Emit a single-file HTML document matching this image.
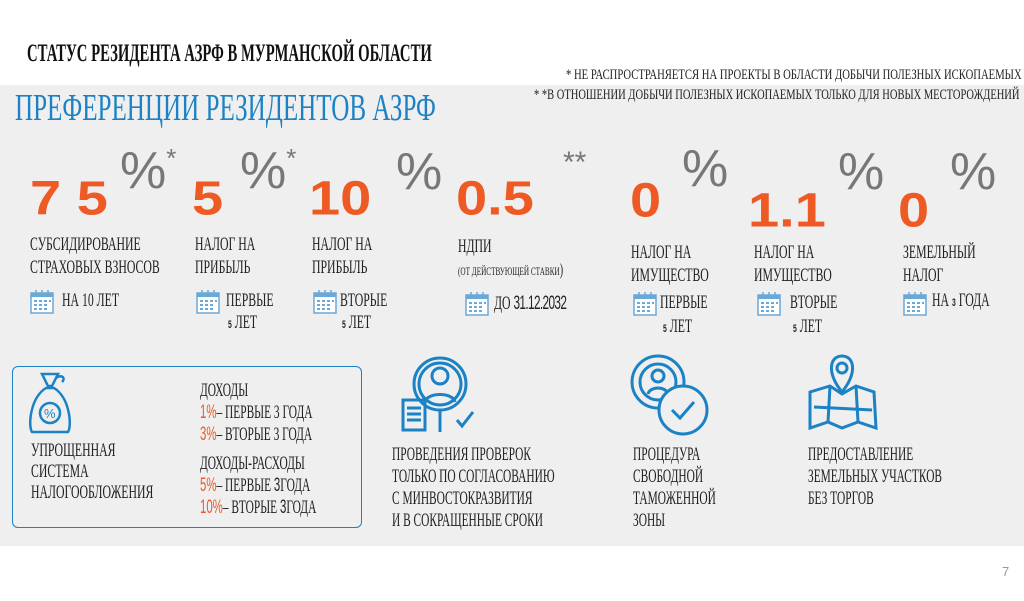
<!DOCTYPE html>
<html><head><meta charset="utf-8"><style>
body{margin:0;width:1024px;height:601px;background:#fff;position:relative;overflow:hidden;font-family:"Liberation Serif","DejaVu Serif",serif}
.a{position:absolute;white-space:nowrap}
.c{display:inline-block;transform-origin:0 0;white-space:nowrap;color:#222}
.n{font-family:"Liberation Sans",sans-serif;font-weight:bold;color:#ee5a24;font-size:56px;line-height:1;transform:scaleY(.86);transform-origin:0 0}
.p{font-family:"Liberation Sans",sans-serif;color:#777;font-size:52px;line-height:1}
.l{font-size:19px;line-height:23px;transform:scaleX(.62)}
.o{font-family:"Liberation Sans",sans-serif;color:#ee5a24}
</style></head><body>
<div class="a" style="left:0;top:85px;width:1024px;height:461px;background:#efefef"></div>
<div class="a" style="left:27px;top:40px"><span class="c" style="font-size:25px;transform:scaleX(.59);font-weight:bold;color:#111">СТАТУС РЕЗИДЕНТА АЗРФ В МУРМАНСКОЙ ОБЛАСТИ</span></div>
<div class="a" style="left:566px;top:66px"><span class="c" style="font-size:15px;transform:scaleX(.71)">* НЕ РАСПРОСТРАНЯЕТСЯ НА ПРОЕКТЫ В ОБЛАСТИ ДОБЫЧИ ПОЛЕЗНЫХ ИСКОПАЕМЫХ</span></div>
<div class="a" style="left:534px;top:86px"><span class="c" style="font-size:15px;transform:scaleX(.70)">* *В ОТНОШЕНИИ  ДОБЫЧИ ПОЛЕЗНЫХ ИСКОПАЕМЫХ ТОЛЬКО ДЛЯ НОВЫХ МЕСТОРОЖДЕНИЙ</span></div>
<div class="a" style="left:15px;top:86px"><span class="c" style="font-size:38px;transform:scaleX(.66);color:#1b82c5">ПРЕФЕРЕНЦИИ РЕЗИДЕНТОВ  АЗРФ</span></div>

<div class="a n" style="left:30px;top:174px">7 5</div>
<div class="a p" style="left:120px;top:145px">%<span style="font-size:26px;vertical-align:top">*</span></div>
<div class="a n" style="left:192px;top:174px">5</div>
<div class="a p" style="left:240px;top:145px">%<span style="font-size:26px;vertical-align:top">*</span></div>
<div class="a n" style="left:309px;top:174px">10</div>
<div class="a p" style="left:396px;top:146px">%</div>
<div class="a n" style="left:456px;top:174px">0.5</div>
<div class="a p" style="left:563px;top:148px;font-size:30px">**</div>
<div class="a n" style="left:630px;top:176px">0</div>
<div class="a p" style="left:682px;top:143px">%</div>
<div class="a n" style="left:748px;top:186px">1.1</div>
<div class="a p" style="left:838px;top:146px">%</div>
<div class="a n" style="left:898px;top:186px">0</div>
<div class="a p" style="left:950px;top:146px">%</div>

<div class="a" style="left:30px;top:233px"><span class="c l">СУБСИДИРОВАНИЕ<br>СТРАХОВЫХ ВЗНОСОВ</span></div>
<div class="a" style="left:195px;top:233px"><span class="c l">НАЛОГ НА<br>ПРИБЫЛЬ</span></div>
<div class="a" style="left:312px;top:233px"><span class="c l">НАЛОГ НА<br>ПРИБЫЛЬ</span></div>
<div class="a" style="left:458px;top:235px"><span class="c l">НДПИ</span></div>
<div class="a" style="left:458px;top:260px"><span class="c" style="font-size:12px;transform:scaleX(.6)">(ОТ ДЕЙСТВУЮЩЕЙ СТАВКИ<span style="font-size:17px">)</span></span></div>
<div class="a" style="left:631px;top:241px"><span class="c l">НАЛОГ НА<br>ИМУЩЕСТВО</span></div>
<div class="a" style="left:754px;top:241px"><span class="c l">НАЛОГ НА<br>ИМУЩЕСТВО</span></div>
<div class="a" style="left:903px;top:241px"><span class="c l">ЗЕМЕЛЬНЫЙ<br>НАЛОГ</span></div>

<svg width="0" height="0" style="position:absolute"><defs><g id="cal"><rect x="1" y="3" width="22" height="20" fill="#fff" stroke="#6aa8d8" stroke-width="1.5"/><rect x="1" y="3" width="22" height="4" fill="#6aa8d8"/><g fill="#6aa8d8"><rect x="4" y="10" width="3" height="2"/><rect x="9" y="10" width="3" height="2"/><rect x="14" y="10" width="3" height="2"/><rect x="19" y="10" width="2" height="2"/><rect x="4" y="14" width="3" height="2"/><rect x="9" y="14" width="3" height="2"/><rect x="14" y="14" width="3" height="2"/><rect x="4" y="18" width="3" height="2"/><rect x="9" y="18" width="3" height="2"/><rect x="14" y="18" width="3" height="2"/></g><g stroke="#6aa8d8" stroke-width="1.5"><line x1="6" y1="0" x2="6" y2="5"/><line x1="12" y1="0" x2="12" y2="5"/><line x1="18" y1="0" x2="18" y2="5"/></g></g></defs></svg>
<svg class="a" style="left:30px;top:290px" width="24" height="24"><use href="#cal"/></svg>
<svg class="a" style="left:196px;top:290px" width="24" height="24"><use href="#cal"/></svg>
<svg class="a" style="left:313px;top:290px" width="24" height="24"><use href="#cal"/></svg>
<svg class="a" style="left:465px;top:292px" width="24" height="24"><use href="#cal"/></svg>
<svg class="a" style="left:633px;top:292px" width="24" height="24"><use href="#cal"/></svg>
<svg class="a" style="left:757px;top:292px" width="24" height="24"><use href="#cal"/></svg>
<svg class="a" style="left:903px;top:292px" width="24" height="24"><use href="#cal"/></svg>

<div class="a" style="left:62px;top:289px"><span class="c l">НА 10 ЛЕТ</span></div>
<div class="a" style="left:226px;top:289px"><span class="c l">ПЕРВЫЕ</span></div>
<div class="a" style="left:228px;top:311px"><span class="c l"><b style="font-family:'Liberation Sans';font-size:11px">5</b> ЛЕТ</span></div>
<div class="a" style="left:340px;top:289px"><span class="c l">ВТОРЫЕ</span></div>
<div class="a" style="left:342px;top:311px"><span class="c l"><b style="font-family:'Liberation Sans';font-size:11px">5</b> ЛЕТ</span></div>
<div class="a" style="left:494px;top:292px"><span class="c l">ДО <span style="font-family:'Liberation Sans';letter-spacing:-1px">31.12.2032</span></span></div>
<div class="a" style="left:660px;top:291px"><span class="c l">ПЕРВЫЕ</span></div>
<div class="a" style="left:663px;top:315px"><span class="c l"><b style="font-family:'Liberation Sans';font-size:11px">5</b> ЛЕТ</span></div>
<div class="a" style="left:790px;top:291px"><span class="c l">ВТОРЫЕ</span></div>
<div class="a" style="left:793px;top:315px"><span class="c l"><b style="font-family:'Liberation Sans';font-size:11px">5</b> ЛЕТ</span></div>
<div class="a" style="left:932px;top:289px"><span class="c l">НА <b style="font-family:'Liberation Sans';font-size:11px">3</b> ГОДА</span></div>

<div class="a" style="left:12px;top:366px;width:348px;height:160px;border:1.5px solid #1b82c5;border-radius:6px"></div>
<svg class="a" style="left:22px;top:370px" width="56" height="65" fill="none" stroke="#1b82c5" stroke-width="2.5"><path d="M20 4 L36 4 L30 16 L26 16 Z"/><path d="M24 18 C8 28 6 56 10 62 L46 62 C50 56 48 28 32 18 Z"/><circle cx="28" cy="43" r="10"/><text x="22" y="48" font-size="13" fill="#1b82c5" stroke="none" font-family="Liberation Sans">%</text><path d="M34 8 C40 4 44 8 40 12"/></svg>
<div class="a" style="left:31px;top:440px"><span class="c l" style="line-height:21px">УПРОЩЕННАЯ<br>СИСТЕМА<br>НАЛОГООБЛОЖЕНИЯ</span></div>
<div class="a" style="left:200px;top:380px"><span class="c l" style="line-height:22px;transform:scaleX(.6)">ДОХОДЫ<br><span class="o">1%</span>– ПЕРВЫЕ 3 ГОДА<br><span class="o">3%</span>– ВТОРЫЕ 3 ГОДА</span></div>
<div class="a" style="left:200px;top:453px"><span class="c l" style="line-height:22px;transform:scaleX(.6)">ДОХОДЫ-РАСХОДЫ<br><span class="o">5%</span>– ПЕРВЫЕ <span style="font-family:'Liberation Sans'">3</span>ГОДА<br><span class="o">10%</span>– ВТОРЫЕ <span style="font-family:'Liberation Sans'">3</span>ГОДА</span></div>

<svg class="a" style="left:395px;top:352px" width="90" height="85" fill="none" stroke="#1b82c5" stroke-width="3"><circle cx="45" cy="32" r="26"/><circle cx="45" cy="32" r="21"/><circle cx="45" cy="24" r="8"/><path d="M30 50 C32 40 58 40 60 50"/><line x1="45" y1="58" x2="45" y2="80"/><rect x="8" y="48" width="22" height="30"/><line x1="12" y1="56" x2="26" y2="56"/><line x1="12" y1="62" x2="26" y2="62"/><line x1="12" y1="68" x2="26" y2="68"/><path d="M62 68 L67 74 L78 60"/></svg>
<svg class="a" style="left:628px;top:352px" width="90" height="90" fill="none" stroke="#1b82c5" stroke-width="3"><circle cx="30" cy="30" r="26"/><circle cx="30" cy="30" r="18"/><circle cx="30" cy="24" r="6"/><path d="M20 42 C22 34 38 34 40 42"/><circle cx="55" cy="58" r="24" fill="#efefef"/><path d="M44 58 L52 66 L66 50"/></svg>
<svg class="a" style="left:808px;top:352px" width="70" height="80" fill="none" stroke="#1b82c5" stroke-width="3"><path d="M34 4 C22 4 18 20 34 40 C50 20 46 4 34 4 Z"/><circle cx="34" cy="16" r="5"/><path d="M2 40 L22 34 L34 42 L48 34 L66 40 L68 76 L50 70 L34 76 L20 70 L2 76 Z"/><line x1="22" y1="34" x2="20" y2="70"/><line x1="48" y1="34" x2="50" y2="70"/><line x1="6" y1="55" x2="64" y2="58"/></svg>

<div class="a" style="left:392px;top:444px"><span class="c l" style="line-height:22px;transform:scaleX(.6)">ПРОВЕДЕНИЯ ПРОВЕРОК<br>ТОЛЬКО ПО СОГЛАСОВАНИЮ<br>С МИНВОСТОКРАЗВИТИЯ<br>И В СОКРАЩЕННЫЕ СРОКИ</span></div>
<div class="a" style="left:633px;top:444px"><span class="c l" style="line-height:22px;transform:scaleX(.6)">ПРОЦЕДУРА<br>СВОБОДНОЙ<br>ТАМОЖЕННОЙ<br>ЗОНЫ</span></div>
<div class="a" style="left:808px;top:444px"><span class="c l" style="line-height:22px;transform:scaleX(.6)">ПРЕДОСТАВЛЕНИЕ<br>ЗЕМЕЛЬНЫХ УЧАСТКОВ<br>БЕЗ ТОРГОВ</span></div>
<div class="a" style="left:1002px;top:564px;font-family:'Liberation Sans';font-size:13px;color:#999">7</div>
</body></html>
